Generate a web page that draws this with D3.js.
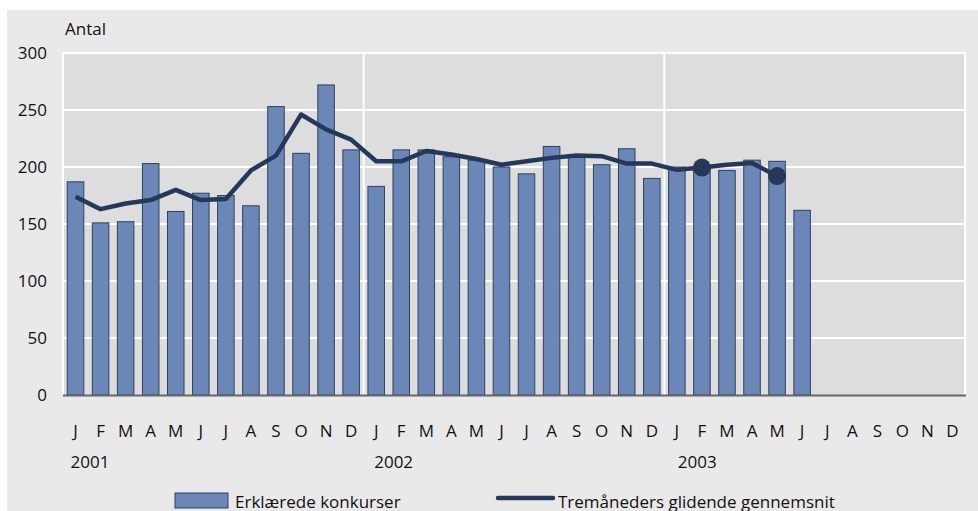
<!DOCTYPE html>
<html>
<head>
<meta charset="utf-8" />
<title>Konkurser</title>
<script src="https://cdn.jsdelivr.net/npm/d3@7/dist/d3.min.js"></script>
<style>
  body { margin: 0; background: #fff; }
  svg text { font-family: "Open Sans", "Noto Sans", sans-serif; fill: #111; }
</style>
</head>
<body>
<div id="chart"></div>
<script>
// months jan 2001 - dec 2003
var monthLabels = ["J","F","M","A","M","J","J","A","S","O","N","D"];
var years = ["2001", "2002", "2003"];
var yTicks = [0, 50, 100, 150, 200, 250, 300];

// erklaerede konkurser (bars), jan 2001 - jun 2003
var konkurser = [187, 151, 152, 203, 161, 177, 175, 166, 253, 212, 272, 215,
                 183, 215, 215, 209, 206, 200, 194, 218, 210, 202, 216, 190,
                 200, 199, 197, 206, 205, 162];
// tremaaneders glidende gennemsnit, jan 2001 - may 2003
var gennemsnit = [174, 163, 168, 171, 180, 171, 172, 197, 210, 246, 233, 224,
                  205, 205, 214, 211, 207, 202, 205, 208, 210, 209.5, 203, 203,
                  197.5, 199.5, 202, 203.5, 192];
// months with a dot on the line
var dots = [25, 28];

var W = 978, H = 511;
var svg = d3.select("#chart").append("svg").attr("width", W).attr("height", H);

// outer panel
svg.append("rect").attr("x", 7).attr("y", 10).attr("width", W - 7).attr("height", H - 10)
  .attr("fill", "#e9e9e9");

var pLeft = 63, pRight = 965, pTop = 53, pBottom = 395;
var nMonths = 36;
var months = d3.range(nMonths);

var x = d3.scaleBand().domain(months).range([pLeft, pRight]).paddingInner(0.34).paddingOuter(0.17);
var y = d3.scaleLinear().domain([0, 300]).range([pBottom, pTop]);
var slot = (pRight - pLeft) / nMonths;

// plot background
svg.append("rect").attr("x", pLeft).attr("y", pTop).attr("width", pRight - pLeft).attr("height", pBottom - pTop)
  .attr("fill", "#dddddd");

// horizontal grid
svg.append("g").selectAll("line").data(yTicks.filter(function(d){ return d > 0; })).enter().append("line")
  .attr("x1", pLeft).attr("x2", pRight + 1)
  .attr("y1", function(d){ return y(d); }).attr("y2", function(d){ return y(d); })
  .attr("stroke", "#fff").attr("stroke-width", 2);

// vertical year lines (incl. left and right edge)
svg.append("g").selectAll("line").data([0, 12, 24, 36]).enter().append("line")
  .attr("x1", function(d){ return pLeft + d * slot; }).attr("x2", function(d){ return pLeft + d * slot; })
  .attr("y1", pTop - 1).attr("y2", pBottom)
  .attr("stroke", "#fff").attr("stroke-width", 2);

// bars
svg.append("g").selectAll("rect").data(konkurser).enter().append("rect")
  .attr("x", function(d, i){ return x(i); })
  .attr("y", function(d){ return y(d); })
  .attr("width", x.bandwidth())
  .attr("height", function(d){ return pBottom - y(d); })
  .attr("fill", "#6b87b7")
  .attr("stroke", "#2f4061").attr("stroke-width", 1);

// x axis line
svg.append("line").attr("x1", pLeft).attr("x2", pRight + 1).attr("y1", pBottom + 0.5).attr("y2", pBottom + 0.5)
  .attr("stroke", "#666").attr("stroke-width", 2);

// moving average line
var cx = function(i){ return x(i) + x.bandwidth() / 2; };
var line = d3.line().x(function(d, i){ return cx(i); }).y(function(d){ return y(d); });
svg.append("path").datum(gennemsnit).attr("d", line)
  .attr("fill", "none").attr("stroke", "#253859").attr("stroke-width", 4.5)
  .attr("stroke-linejoin", "round");

svg.append("g").selectAll("circle").data(dots).enter().append("circle")
  .attr("cx", function(d){ return cx(d); })
  .attr("cy", function(d){ return y(gennemsnit[d]); })
  .attr("r", 9).attr("fill", "#253859");

// y axis labels
svg.append("g").selectAll("text").data(yTicks).enter().append("text")
  .attr("x", 47).attr("y", function(d){ return y(d) + 6; })
  .attr("text-anchor", "end").attr("font-size", 17)
  .text(function(d){ return d; });

svg.append("text").attr("x", 65).attr("y", 35).attr("font-size", 17).text("Antal");

// month labels
svg.append("g").selectAll("text").data(months).enter().append("text")
  .attr("x", function(d){ return cx(d); }).attr("y", 437)
  .attr("text-anchor", "middle").attr("font-size", 17)
  .text(function(d){ return monthLabels[d % 12]; });

// year labels
svg.append("g").selectAll("text").data(years).enter().append("text")
  .attr("x", function(d, i){ return cx(i * 12) - 5 + i * 3; }).attr("y", 468)
  .attr("font-size", 17)
  .text(function(d){ return d; });

// legend
svg.append("rect").attr("x", 175).attr("y", 493).attr("width", 53).attr("height", 15)
  .attr("fill", "#6b87b7").attr("stroke", "#2f4061").attr("stroke-width", 1);
svg.append("text").attr("x", 235).attr("y", 508).attr("font-size", 17).text("Erklærede konkurser");
svg.append("line").attr("x1", 498).attr("x2", 553).attr("y1", 498).attr("y2", 498)
  .attr("stroke", "#253859").attr("stroke-width", 4.5).attr("stroke-linecap", "round");
svg.append("text").attr("x", 558).attr("y", 508).attr("font-size", 17).text("Tremåneders glidende gennemsnit");
</script>
</body>
</html>
